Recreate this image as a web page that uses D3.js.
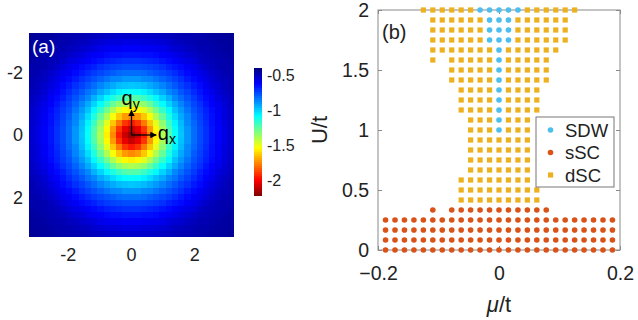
<!DOCTYPE html>
<html><head><meta charset="utf-8">
<script src="https://cdn.jsdelivr.net/npm/d3@7"></script>
<style>
body{margin:0;background:#fff}
svg{display:block}
text{font-family:"Liberation Sans",Arial,Helvetica,sans-serif;fill:#222}
</style>
</head><body>
<svg id="chart" width="638" height="320"></svg>
<script>
// ---------- Panel (a) data ----------
// momentum grid (cell centres) along qx and qy
const qValues = [-3.1416,-2.9452,-2.7489,-2.5525,-2.3562,-2.1598,-1.9635,-1.7671,-1.5708,-1.3744,-1.1781,-0.9817,-0.7854,-0.5890,-0.3927,-0.1963,0,
  0.1963,0.3927,0.5890,0.7854,0.9817,1.1781,1.3744,1.5708,1.7671,1.9635,2.1598,2.3562,2.5525,2.7489,2.9452,3.1416];
// one quadrant of the (symmetric) map: row = |qy| index, column = |qx| index
const mapQuadrant = [
  [-2.16,-2.08,-1.94,-1.74,-1.56,-1.39,-1.23,-1.09,-0.98,-0.89,-0.82,-0.76,-0.71,-0.66,-0.62,-0.58,-0.54],
  [-2.08,-2.02,-1.89,-1.71,-1.54,-1.37,-1.22,-1.08,-0.97,-0.89,-0.82,-0.76,-0.71,-0.66,-0.62,-0.58,-0.54],
  [-1.94,-1.89,-1.77,-1.63,-1.48,-1.33,-1.18,-1.06,-0.96,-0.87,-0.81,-0.75,-0.70,-0.65,-0.61,-0.57,-0.54],
  [-1.74,-1.71,-1.63,-1.52,-1.39,-1.26,-1.13,-1.02,-0.93,-0.86,-0.79,-0.74,-0.69,-0.65,-0.61,-0.57,-0.53],
  [-1.56,-1.54,-1.48,-1.39,-1.28,-1.17,-1.07,-0.97,-0.90,-0.83,-0.77,-0.73,-0.68,-0.64,-0.60,-0.56,-0.53],
  [-1.39,-1.37,-1.33,-1.26,-1.17,-1.08,-1.00,-0.93,-0.86,-0.80,-0.75,-0.71,-0.66,-0.62,-0.59,-0.55,-0.52],
  [-1.23,-1.22,-1.18,-1.13,-1.07,-1.00,-0.94,-0.87,-0.82,-0.77,-0.73,-0.68,-0.64,-0.61,-0.57,-0.54,-0.51],
  [-1.09,-1.08,-1.06,-1.02,-0.97,-0.93,-0.87,-0.83,-0.78,-0.74,-0.70,-0.66,-0.62,-0.59,-0.55,-0.52,-0.50],
  [-0.98,-0.97,-0.96,-0.93,-0.90,-0.86,-0.82,-0.78,-0.74,-0.71,-0.67,-0.64,-0.60,-0.57,-0.54,-0.51,-0.49],
  [-0.89,-0.89,-0.87,-0.86,-0.83,-0.80,-0.77,-0.74,-0.71,-0.67,-0.64,-0.61,-0.58,-0.55,-0.52,-0.50,-0.49],
  [-0.82,-0.82,-0.81,-0.79,-0.77,-0.75,-0.73,-0.70,-0.67,-0.64,-0.61,-0.59,-0.56,-0.53,-0.51,-0.49,-0.48],
  [-0.76,-0.76,-0.75,-0.74,-0.73,-0.71,-0.68,-0.66,-0.64,-0.61,-0.59,-0.56,-0.53,-0.51,-0.49,-0.48,-0.48],
  [-0.71,-0.71,-0.70,-0.69,-0.68,-0.66,-0.64,-0.62,-0.60,-0.58,-0.56,-0.53,-0.51,-0.50,-0.49,-0.48,-0.47],
  [-0.66,-0.66,-0.65,-0.65,-0.64,-0.62,-0.61,-0.59,-0.57,-0.55,-0.53,-0.51,-0.50,-0.49,-0.48,-0.47,-0.46],
  [-0.62,-0.62,-0.61,-0.61,-0.60,-0.59,-0.57,-0.55,-0.54,-0.52,-0.51,-0.49,-0.49,-0.48,-0.47,-0.46,-0.46],
  [-0.58,-0.58,-0.57,-0.57,-0.56,-0.55,-0.54,-0.52,-0.51,-0.50,-0.49,-0.48,-0.48,-0.47,-0.46,-0.46,-0.45],
  [-0.54,-0.54,-0.54,-0.53,-0.53,-0.52,-0.51,-0.50,-0.49,-0.49,-0.48,-0.48,-0.47,-0.46,-0.46,-0.45,-0.44]
];
const mapTicks = [-2, 0, 2];
const colorRange = [-2.21, -0.40];
const colorbarTicks = [-0.5, -1, -1.5, -2];

// ---------- Panel (b) data ----------
const muValues = [-0.1875,-0.1719,-0.1563,-0.1406,-0.125,-0.1094,-0.0938,-0.0781,-0.0625,-0.0469,-0.0313,-0.0156,0,
  0.0156,0.0313,0.0469,0.0625,0.0781,0.0938,0.1094,0.125,0.1406,0.1563,0.1719,0.1875];
const uValues = [0,0.0833,0.1667,0.25,0.3333,0.4167,0.5,0.5833,0.6667,0.75,0.8333,0.9167,1,
  1.0833,1.1667,1.25,1.3333,1.4167,1.5,1.5833,1.6667,1.75,1.8333,1.9167,2];
// phase at each (U row, mu column): S = SDW, R = sSC, D = dSC, . = none ; rows from U=0 upward
const phaseRows = [
  "RRRRRRRRRRRRRRRRRRRRRRRRR",
  "RRRRRRRRRRRRRRRRRRRRRRRRR",
  "RRRRRRRRRRRRRRRRRRRRRRRRR",
  "RRRRRRRRRRRRRRRRRRRRRRRRR",
  ".....R.RRRRRRRRRRR.......",
  "........DDDDDDDDD........",
  "........DDDDDDDDD........",
  "........DDDDDDDD.........",
  ".........DDDDDDD.........",
  ".........DDDDDDD.........",
  ".........DDDDDDD.........",
  ".........DDDDDDD.........",
  ".........DDDSDDD.........",
  ".........DDDSDDD.........",
  "........DDDDSDDDD........",
  "........DDDDSDDDD........",
  "........DDDDSDDDD........",
  ".......DDDDDSDDDDD.......",
  ".......DDDDDSDDDDD.......",
  ".....D.DDDDDSDDDDD.......",
  ".....DDDDDDDSDDDDDD......",
  ".....DDDDDDSSSDDDDDD.....",
  ".....DDDDDDSSSDDDDDD.....",
  ".....DDDDDDSSSDDDDDD.....",
  "....DDDDDDSSSSSDDDDDD...."
];
const phaseCodes = ["S", "R", "D"];
const phaseNames = ["SDW", "sSC", "dSC"];
const muTicks = [-0.2, 0, 0.2];
const uTicks = [0, 0.5, 1, 1.5, 2];

// ---------- drawing ----------
const svg = d3.select("#chart");

function jet(s) {
  const c = v => Math.max(0, Math.min(1, v));
  const r = c(1.5 - Math.abs(4 * s - 3)), g = c(1.5 - Math.abs(4 * s - 2)), b = c(1.5 - Math.abs(4 * s - 1));
  return d3.rgb(r * 255, g * 255, b * 255).toString();
}
const colorScale = d3.scaleLinear().domain([colorRange[1], colorRange[0]]).range([0, 1]).clamp(true);
const colorOf = v => jet(colorScale(v));

// Panel (a) heatmap
const step = qValues[1] - qValues[0];
const qExt = [qValues[0] - step / 2, qValues[qValues.length - 1] + step / 2];
const xa = d3.scaleLinear().domain(qExt).range([29, 234]);
const ya = d3.scaleLinear().domain(qExt).range([33, 237]);
const mid = (qValues.length - 1) / 2;
const cells = [];
qValues.forEach((qy, iy) => qValues.forEach((qx, ix) => {
  cells.push({qx, qy, v: mapQuadrant[Math.abs(iy - mid)][Math.abs(ix - mid)]});
}));
const ga = svg.append("g");
ga.selectAll("rect.cell").data(cells).join("rect")
  .attr("class", "cell")
  .attr("x", d => xa(d.qx - step / 2))
  .attr("y", d => ya(d.qy - step / 2))
  .attr("width", xa(step) - xa(0) + 0.4)
  .attr("height", ya(step) - ya(0) + 0.4)
  .attr("fill", d => colorOf(d.v))
  .attr("shape-rendering", "crispEdges");

ga.selectAll("text.xt").data(mapTicks).join("text")
  .attr("x", d => xa(d)).attr("y", 261).attr("text-anchor", "middle")
  .style("font-size", "18px").text(d => d);
ga.selectAll("text.yt").data(mapTicks).join("text")
  .attr("x", 23).attr("y", d => ya(d)).attr("dy", "0.36em").attr("text-anchor", "end")
  .style("font-size", "18px").text(d => d);

ga.append("text").attr("x", 32).attr("y", 53).style("font-size", "19px").style("fill", "#fff").text("(a)");

// arrows
const defs = svg.append("defs");
defs.append("marker").attr("id", "ah").attr("viewBox", "0 0 10 10").attr("refX", 9).attr("refY", 5)
  .attr("markerWidth", 5).attr("markerHeight", 5).attr("orient", "auto")
  .append("path").attr("d", "M0,0 L10,5 L0,10 z").attr("fill", "#000");
ga.append("line").attr("x1", xa(0)).attr("y1", ya(0)).attr("x2", xa(0)).attr("y2", ya(-0.78))
  .attr("stroke", "#000").attr("stroke-width", 1.3).attr("marker-end", "url(#ah)");
ga.append("line").attr("x1", xa(0)).attr("y1", ya(0)).attr("x2", xa(0.78)).attr("y2", ya(0))
  .attr("stroke", "#000").attr("stroke-width", 1.3).attr("marker-end", "url(#ah)");
const qy = ga.append("text").attr("x", xa(0) - 10).attr("y", ya(-0.95)).style("font-size", "20px").style("fill", "#000");
qy.append("tspan").text("q");
qy.append("tspan").attr("dy", 4).style("font-size", "14px").text("y");
const qx = ga.append("text").attr("x", xa(0.83)).attr("y", ya(0) + 5).style("font-size", "20px").style("fill", "#000");
qx.append("tspan").text("q");
qx.append("tspan").attr("dy", 4).style("font-size", "14px").text("x");

// colorbar
const cb = svg.append("g");
const yc = d3.scaleLinear().domain(colorRange).range([195, 68]);
const nLev = 64;
const dv = (colorRange[1] - colorRange[0]) / nLev;
const levels = d3.range(nLev).map(i => colorRange[0] + (i + 0.5) * dv);
cb.selectAll("rect").data(levels).join("rect")
  .attr("x", 254).attr("width", 8)
  .attr("y", d => yc(d + dv / 2)).attr("height", yc(0) - yc(dv) + 0.5)
  .attr("fill", d => colorOf(d)).attr("shape-rendering", "crispEdges");
cb.selectAll("text").data(colorbarTicks).join("text")
  .attr("x", 267).attr("y", d => yc(d)).attr("dy", "0.36em")
  .style("font-size", "16px").text(d => d);

// Panel (b)
const xb = d3.scaleLinear().domain([-0.2, 0.2]).range([378, 620]);
const yb = d3.scaleLinear().domain([0, 2]).range([250, 10]);
const gb = svg.append("g");
const axisColor = "#8a8a8a";
gb.append("rect").attr("x", xb(-0.2)).attr("y", yb(2)).attr("width", xb(0.2) - xb(-0.2)).attr("height", yb(0) - yb(2))
  .attr("fill", "none").attr("stroke", axisColor).attr("stroke-width", 1);

const axL = gb.append("g").attr("transform", `translate(${xb(-0.2)},0)`)
  .call(d3.axisLeft(yb).tickValues(uTicks).tickSize(-4).tickPadding(9).tickFormat(d3.format("")));
const axR = gb.append("g").attr("transform", `translate(${xb(0.2)},0)`)
  .call(d3.axisRight(yb).tickValues(uTicks).tickSize(-4).tickFormat(""));
const axB = gb.append("g").attr("transform", `translate(0,${yb(0)})`)
  .call(d3.axisBottom(xb).tickValues(muTicks).tickSize(-4).tickPadding(16).tickFormat(d3.format("")));
const axT = gb.append("g").attr("transform", `translate(0,${yb(2)})`)
  .call(d3.axisTop(xb).tickValues(muTicks).tickSize(-4).tickFormat(""));
[axL, axR, axB, axT].forEach(a => {
  a.select(".domain").remove();
  a.selectAll(".tick line").attr("stroke", axisColor);
  a.selectAll(".tick text").style("font-size", "19.5px").style("fill", "#222")
    .style("font-family", '"Liberation Sans",Arial,sans-serif');
});

gb.append("text").attr("transform", `translate(319,${yb(1)}) rotate(-90)`).attr("text-anchor", "middle")
  .attr("dy", "0.36em").style("font-size", "22px").text("U/t");
const xl = gb.append("text").attr("x", xb(0)).attr("y", 312).attr("text-anchor", "middle").style("font-size", "22px");
xl.append("tspan").style("font-style", "italic").text("μ");
xl.append("tspan").text("/t");

gb.append("text").attr("x", 382).attr("y", 39).style("font-size", "20px").text("(b)");

const phaseColor = {S: "#4DBEEE", R: "#D95319", D: "#EDB120"};
const points = [];
phaseRows.forEach((row, j) => row.split("").forEach((c, k) => {
  if (c !== ".") points.push({mu: muValues[k], u: uValues[j], phase: c});
}));
phaseCodes.forEach(code => {
  const pts = points.filter(p => p.phase === code);
  if (code === "D") {
    gb.selectAll(null).data(pts).join("rect")
      .attr("x", d => xb(d.mu) - 2.6).attr("y", d => yb(d.u) - 2.6)
      .attr("width", 5.2).attr("height", 5.2).attr("fill", phaseColor[code]);
  } else {
    gb.selectAll(null).data(pts).join("circle")
      .attr("cx", d => xb(d.mu)).attr("cy", d => yb(d.u)).attr("r", 2.8).attr("fill", phaseColor[code]);
  }
});

// legend
const lg = gb.append("g");
lg.append("rect").attr("x", 536).attr("y", 117).attr("width", 78).attr("height", 70)
  .attr("fill", "#fff").attr("stroke", "#777").attr("stroke-width", 1);
phaseCodes.forEach((code, i) => {
  const cy = 130 + i * 22.5;
  if (code === "D") {
    lg.append("rect").attr("x", 548).attr("y", cy - 2.6).attr("width", 5.2).attr("height", 5.2).attr("fill", phaseColor[code]);
  } else {
    lg.append("circle").attr("cx", 550.5).attr("cy", cy).attr("r", 2.8).attr("fill", phaseColor[code]);
  }
  lg.append("text").attr("x", 565).attr("y", cy).attr("dy", "0.36em").style("font-size", "18.5px").text(phaseNames[i]);
});
</script>
</body></html>
